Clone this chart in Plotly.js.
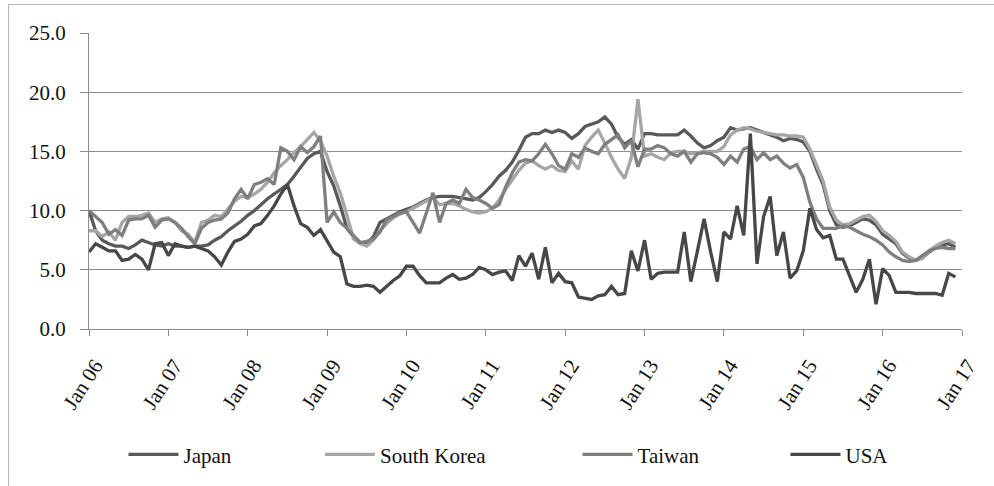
<!DOCTYPE html>
<html>
<head>
<meta charset="utf-8">
<script src="https://cdn.plot.ly/plotly-3.0.1.min.js"></script>
<style>
html,body{margin:0;padding:0;background:#fff;}
#wrap{position:relative;width:994px;height:486px;overflow:hidden;}
#chart{position:absolute;left:0;top:0;width:994px;height:486px;}
#frame{position:absolute;left:8px;top:4px;width:1010px;height:520px;border:1px solid #b8b8b8;pointer-events:none;}
</style>
</head>
<body>
<div id="wrap"><div id="chart"></div><div id="frame"></div></div>
<script>
// Monthly values, Jan 2006 .. Dec 2016
var tickLabels = ['Jan 06','Jan 07','Jan 08','Jan 09','Jan 10','Jan 11','Jan 12','Jan 13','Jan 14','Jan 15','Jan 16','Jan 17'];
var seriesNames = ['Japan','South Korea','Taiwan','USA'];

var japan = [10.0,8.3,7.5,7.2,7.0,7.0,6.8,7.1,7.5,7.3,7.1,7.0,
7.2,7.0,7.0,6.9,7.0,7.0,7.1,7.5,7.8,8.3,8.7,9.1,
9.6,10.0,10.5,11.0,11.4,11.8,12.2,12.9,13.6,14.4,14.8,15.0,
13.3,12.1,10.4,8.5,7.8,7.3,7.2,7.8,9.0,9.3,9.6,9.9,
10.1,10.3,10.6,10.9,11.1,11.2,11.2,11.2,11.1,11.0,10.9,11.1,
11.6,12.2,12.9,13.4,14.1,15.1,16.2,16.5,16.5,16.8,16.6,16.8,
16.6,16.1,16.5,17.1,17.3,17.5,17.9,17.3,16.2,15.6,16.0,15.2,
16.5,16.5,16.4,16.4,16.4,16.4,16.8,16.3,15.7,15.3,15.5,15.9,
16.2,17.0,16.8,16.9,17.0,16.8,16.6,16.4,16.2,15.9,16.1,16.0,
15.8,15.0,13.5,12.2,10.0,8.8,8.6,8.7,9.0,9.3,9.2,8.8,
8.0,7.6,7.2,6.4,6.0,5.8,6.0,6.5,6.9,7.1,7.2,6.9];

var southKorea = [8.3,8.3,7.8,8.2,7.5,9.0,9.5,9.5,9.6,9.8,9.0,9.3,
9.4,9.0,8.3,8.0,7.3,9.0,9.2,9.6,9.5,10.1,10.8,11.2,
11.1,11.4,11.8,12.4,13.2,13.8,14.3,14.9,15.4,16.0,16.6,15.9,
14.6,12.9,11.5,9.6,7.6,7.2,7.0,7.5,8.3,8.9,9.4,9.7,
9.9,10.2,10.5,10.8,11.1,10.5,10.6,10.6,10.4,10.1,9.9,9.8,
9.9,10.2,10.9,11.8,12.6,13.4,14.0,14.2,13.8,13.5,13.8,13.4,
13.3,14.2,13.5,15.5,16.2,16.8,15.7,14.5,13.5,12.7,14.5,19.4,
14.6,14.8,14.5,14.3,14.9,15.0,15.0,14.8,14.9,15.0,15.0,15.0,
15.4,16.4,16.8,17.0,16.9,16.7,16.6,16.5,16.4,16.4,16.3,16.3,
16.2,15.2,13.8,12.5,10.3,9.2,8.8,8.9,9.2,9.5,9.6,9.1,
8.3,7.9,7.4,6.5,6.1,5.8,6.0,6.6,7.0,7.3,7.5,7.2];

var taiwan = [10.0,9.5,9.0,8.0,8.4,7.9,9.2,9.3,9.3,9.6,8.6,9.2,
9.3,9.0,8.5,7.8,7.2,8.5,9.0,9.2,9.3,9.8,11.0,11.8,
11.0,12.2,12.4,12.7,12.2,15.3,15.0,14.3,15.4,14.9,15.4,16.3,
9.0,9.9,9.0,8.5,7.9,7.3,7.4,7.6,8.2,9.2,9.5,9.8,
9.9,9.0,8.1,9.8,11.5,9.0,10.6,10.9,10.6,11.8,11.1,10.9,
10.6,10.2,10.5,12.0,13.2,14.1,14.3,14.2,14.8,15.6,14.8,13.8,
13.5,14.8,14.5,15.3,15.0,14.8,15.6,16.0,16.4,15.3,15.9,13.7,
15.2,15.2,15.5,15.3,14.8,14.6,15.0,14.1,14.8,14.9,14.8,14.5,
13.9,14.6,14.1,15.2,15.4,14.3,14.9,14.3,14.6,14.0,13.6,13.9,
12.8,10.7,9.3,8.5,8.5,8.5,8.7,8.6,8.3,8.0,7.8,7.5,
7.1,6.5,6.1,5.8,5.7,5.8,6.2,6.6,6.8,6.9,6.8,6.8];

var usa = [6.5,7.2,6.9,6.6,6.6,5.8,5.9,6.3,5.9,5.0,7.2,7.3,
6.2,7.2,7.0,6.9,7.0,6.8,6.6,6.1,5.4,6.5,7.4,7.6,
8.0,8.7,8.9,9.6,10.4,11.4,12.2,10.4,8.9,8.6,7.9,8.4,
7.5,6.5,6.1,3.8,3.6,3.6,3.7,3.6,3.1,3.6,4.1,4.5,
5.3,5.3,4.5,3.9,3.9,3.9,4.3,4.6,4.2,4.3,4.6,5.2,
5.0,4.6,4.8,4.9,4.1,6.2,5.3,6.4,4.2,6.9,3.9,4.7,
4.0,3.9,2.7,2.6,2.5,2.8,2.9,3.6,2.9,3.0,6.6,4.9,
7.5,4.2,4.7,4.8,4.8,4.8,8.2,4.0,6.6,9.3,6.5,4.0,
8.2,7.6,10.4,7.9,16.5,5.5,9.5,11.2,6.2,8.2,4.3,4.9,
6.6,10.2,8.4,7.7,7.9,5.9,5.9,4.5,3.1,4.2,5.9,2.1,
5.1,4.5,3.1,3.1,3.1,3.0,3.0,3.0,3.0,2.85,4.7,4.4];

var seriesColors = ['#595959','#a6a6a6','#7f7f7f','#474747'];
var allSeries = [japan, southKorea, taiwan, usa];

var monthIdx = japan.map(function(_, i){ return i; });
var tickVals = tickLabels.map(function(_, i){ return i * 12; });

var serif = 'Liberation Serif, Times New Roman, serif';
var legendNames = ['legend','legend2','legend3','legend4'];
var legendX = [0.0395, 0.2646, 0.5596, 0.7978];

var traces = allSeries.map(function(vals, k){
  return {
    x: monthIdx, y: vals, type: 'scatter', mode: 'lines',
    name: seriesNames[k],
    line: {color: seriesColors[k], width: 3.3},
    legend: legendNames[k],
    hoverinfo: 'skip'
  };
});

var layout = {
  width: 994, height: 486,
  margin: {l: 89, r: 32, t: 33, b: 156},
  paper_bgcolor: 'rgba(0,0,0,0)', plot_bgcolor: '#fff',
  font: {family: serif, size: 21, color: '#111'},
  showlegend: true,
  xaxis: {
    type: 'linear', range: [0, 132],
    tickmode: 'array', tickvals: tickVals, ticktext: tickLabels,
    tickangle: -57, ticks: 'outside', ticklen: 6, tickcolor: '#8c8c8c', tickwidth: 1,
    ticklabelstandoff: 9, ticklabelshift: 6,
    showline: true, linecolor: '#8c8c8c', linewidth: 1,
    showgrid: false, zeroline: false,
    tickfont: {family: serif, size: 21, color: '#111'}
  },
  yaxis: {
    range: [0, 25], dtick: 5, tick0: 0, tickformat: '.1f',
    ticks: 'outside', ticklen: 8, tickcolor: '#8c8c8c', tickwidth: 1,
    ticklabelstandoff: 10,
    showline: true, linecolor: '#8c8c8c', linewidth: 1,
    showgrid: true, gridcolor: '#8c8c8c', gridwidth: 1, zeroline: false,
    tickfont: {family: serif, size: 21, color: '#111'}
  }
};
legendNames.forEach(function(nm, k){
  layout[nm] = {
    orientation: 'h', x: legendX[k], xanchor: 'left', y: -0.42, yanchor: 'middle',
    bgcolor: 'rgba(0,0,0,0)', borderwidth: 0, itemwidth: 50,
    font: {family: serif, size: 21, color: '#111'}
  };
});

Plotly.newPlot('chart', traces, layout, {displayModeBar: false, staticPlot: true});
</script>
</body>
</html>
